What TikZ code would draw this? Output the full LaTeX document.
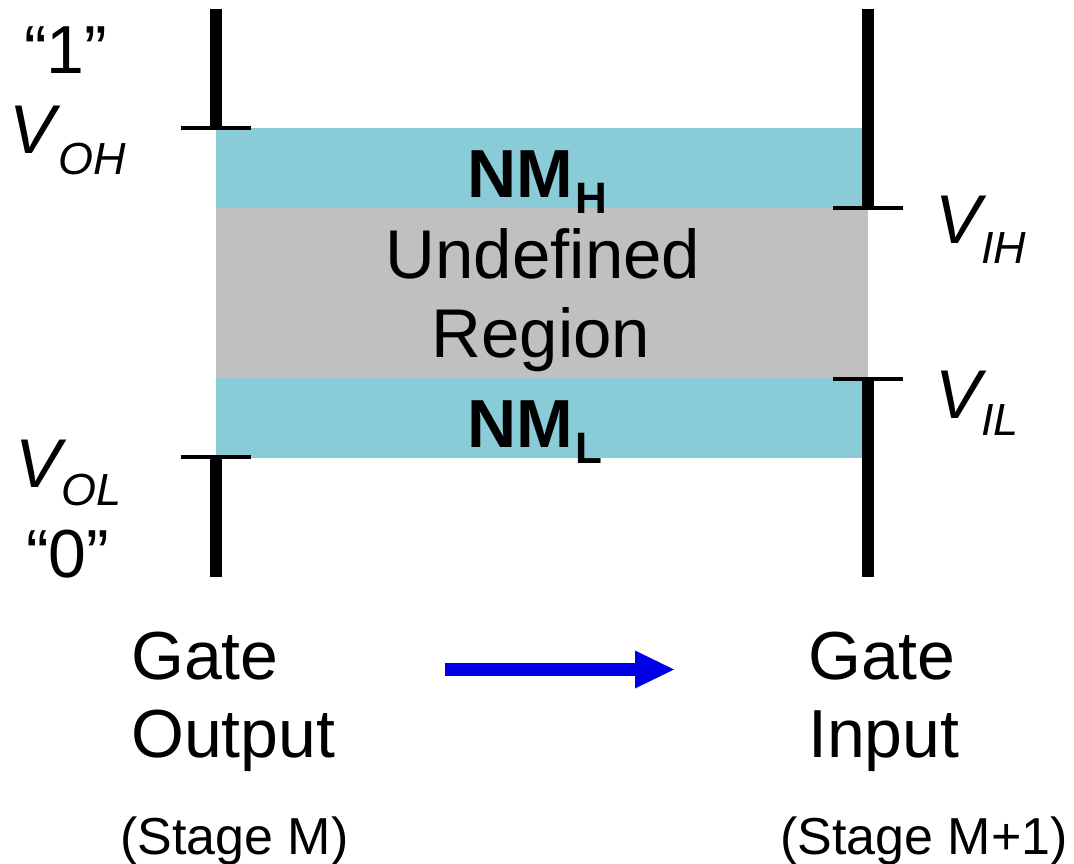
\documentclass[tikz,border=0pt]{standalone}
\usepackage{fontspec}
\setmainfont{Liberation Sans}
\usetikzlibrary{arrows.meta}
\definecolor{nmcyan}{RGB}{138,203,216}
\definecolor{undefgray}{RGB}{192,192,192}
\definecolor{arrowblue}{RGB}{0,0,230}
\begin{document}
\begin{tikzpicture}[x=1pt,y=-1pt,
  region/.style={fill=#1,draw=none,inner sep=0pt,minimum width=652pt},
  bar/.style={line width=12pt,line cap=butt},
  tickline/.style={line width=4pt,line cap=butt},
  bigtxt/.style={inner sep=0pt,anchor=base west,font=\fontsize{68}{78}\selectfont},
  midtxt/.style={inner sep=0pt,anchor=base,font=\fontsize{69}{78}\selectfont},
  smalltxt/.style={inner sep=0pt,anchor=base west,font=\fontsize{52}{60}\selectfont},
  vtxt/.style={inner sep=0pt,anchor=base west,font=\fontsize{69}{78}\selectfont\itshape},
  subtxt/.style={inner sep=0pt,anchor=base west,font=\fontsize{45}{50}\selectfont\itshape},
  nmtxt/.style={inner sep=0pt,anchor=base west,font=\fontsize{68}{78}\selectfont\bfseries},
  nmsub/.style={inner sep=0pt,anchor=base west,font=\fontsize{44}{50}\selectfont\bfseries},
  flow/.style={line width=13pt,arrowblue,-{Triangle[length=39pt,width=38pt,line width=0pt]}}
]
\useasboundingbox (0,0) rectangle (1074,864);
% regions
\node[region=nmcyan,minimum height=80pt] (nmh) at (542,168) {};
\node[region=undefgray,minimum height=170pt] (undef) at (542,293) {};
\node[region=nmcyan,minimum height=80pt] (nml) at (542,418) {};
% left bars (gate output)
\coordinate (LT) at (216,9);
\coordinate (LOH) at (216,128);
\coordinate (LOL) at (216,457);
\coordinate (LB) at (216,577);
\draw[bar] (LT) -- (LOH);
\draw[tickline] ([xshift=-35pt]LOH) -- ([xshift=35pt]LOH);
\draw[bar] (LOL) -- (LB);
\draw[tickline] ([xshift=-35pt]LOL) -- ([xshift=35pt]LOL);
% right bars (gate input)
\coordinate (RT) at (868,9);
\coordinate (RIH) at (868,208);
\coordinate (RIL) at (868,379);
\coordinate (RB) at (868,577);
\draw[bar] (RT) -- (RIH);
\draw[tickline] ([xshift=-35pt]RIH) -- ([xshift=35pt]RIH);
\draw[bar] (RIL) -- (RB);
\draw[tickline] ([xshift=-35pt]RIL) -- ([xshift=35pt]RIL);
% left labels
\node[bigtxt] (one) at (24,74) {“1”};
\node[vtxt] (voh) at (9,154) {V};
\node[subtxt] (vohs) at (58,175) {OH};
\node[vtxt] (vol) at (15,487) {V};
\node[subtxt] (vols) at (61,505) {OL};
\node[bigtxt] (zero) at (26,577) {“0”};
% right labels
\node[vtxt] (vih) at (935,243) {V};
\node[subtxt] (vihs) at (981,263) {IH};
\node[vtxt] (vil) at (935,418) {V};
\node[subtxt] (vils) at (981,435) {IL};
% region labels
\node[nmtxt] (nmhT) at (467,197) {NM};
\node[nmsub] (nmhS) at (575,213) {H};
\node[midtxt] (und1) at (543,278) {Undefined};
\node[midtxt] (und2) at (541,357) {Region};
\node[nmtxt] (nmlT) at (467,447) {NM};
\node[nmsub] (nmlS) at (575,463) {L};
% bottom labels
\node[bigtxt] (g1) at (131,679) {Gate};
\node[bigtxt] (g2) at (131,757) {Output};
\node[smalltxt] (s1) at (120,854) {(Stage M)};
\node[bigtxt] (h1) at (808,679) {Gate};
\node[bigtxt] (h2) at (808,757) {Input};
\node[smalltxt] (s2) at (780,854) {(Stage M+1)};
% arrow
\coordinate (AS) at (445,669.5);
\coordinate (AE) at (674,669.5);
\draw[flow] (AS) -- (AE);
\end{tikzpicture}
\end{document}
